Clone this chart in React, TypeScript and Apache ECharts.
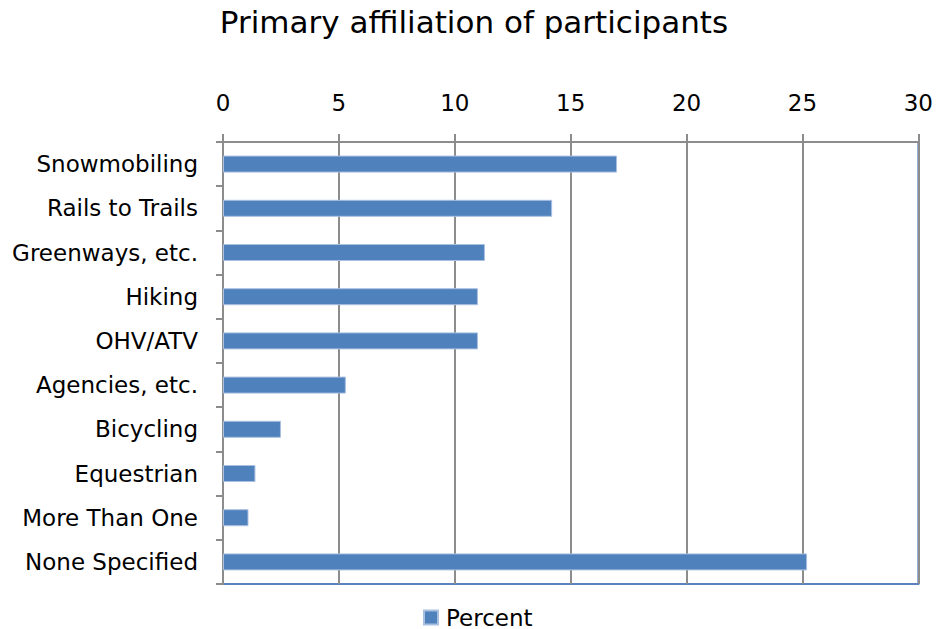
import React, { useEffect, useRef } from "react";
import * as echarts from "echarts";

const categories = [
  "Snowmobiling",
  "Rails to Trails",
  "Greenways, etc.",
  "Hiking",
  "OHV/ATV",
  "Agencies, etc.",
  "Bicycling",
  "Equestrian",
  "More Than One",
  "None Specified",
];
const percentValues = [17.0, 14.2, 11.3, 11.0, 11.0, 5.3, 2.5, 1.4, 1.1, 25.2];
const seriesName = "Percent";
const titleText = "Primary affiliation of participants";

const FONT = "'DejaVu Sans', Verdana, sans-serif";

export default function App() {
  const ref = useRef<HTMLDivElement>(null);

  useEffect(() => {
    if (!ref.current) return;
    const chart = echarts.init(ref.current, undefined, { renderer: "svg" });
    chart.setOption({
      animation: false,
      backgroundColor: "#ffffff",
      textStyle: { fontFamily: FONT },
      title: {
        text: titleText,
        left: 469,
        textAlign: "center",
        top: 1,
        textStyle: { fontFamily: FONT, fontSize: 31, fontWeight: "normal", color: "#000" },
      },
      legend: {
        data: [seriesName],
        left: 423,
        top: 606,
        padding: 0,
        itemWidth: 14,
        itemHeight: 14,
        itemGap: 10,
        icon: "rect",
        textStyle: { fontFamily: FONT, fontSize: 23, color: "#000", padding: [0, 0, 0, 3] },
      },
      grid: {
        left: 223,
        right: 14,
        top: 142,
        bottom: 45,
        show: true,
        borderColor: "#5b82bf",
        borderWidth: 2,
      },
      xAxis: {
        type: "value",
        position: "top",
        min: 0,
        max: 30,
        interval: 5,
        axisLine: { show: true, lineStyle: { color: "#8c8c8c", width: 2 } },
        axisTick: { show: true, inside: false, length: 8, lineStyle: { color: "#8c8c8c", width: 2 } },
        axisLabel: { fontFamily: FONT, fontSize: 23, color: "#000", margin: 28 },
        splitLine: { show: true, lineStyle: { color: "#8c8c8c", width: 2 } },
      },
      yAxis: {
        type: "category",
        data: categories,
        inverse: true,
        axisLine: { show: true, lineStyle: { color: "#8c8c8c", width: 2 } },
        axisTick: { show: true, length: 7, lineStyle: { color: "#8c8c8c", width: 2 } },
        axisLabel: { fontFamily: FONT, fontSize: 23, color: "#000", margin: 25 },
      },
      series: [
        {
          name: seriesName,
          type: "bar",
          data: percentValues,
          barWidth: 17,
          itemStyle: { color: "#4f81bd", borderColor: "#a9c0e0", borderWidth: 1 },
        },
      ],
    });
    return () => chart.dispose();
  }, []);

  return (
    <div
      ref={ref}
      style={{ position: "absolute", left: 0, top: 0, width: 936, height: 629 }}
    />
  );
}
